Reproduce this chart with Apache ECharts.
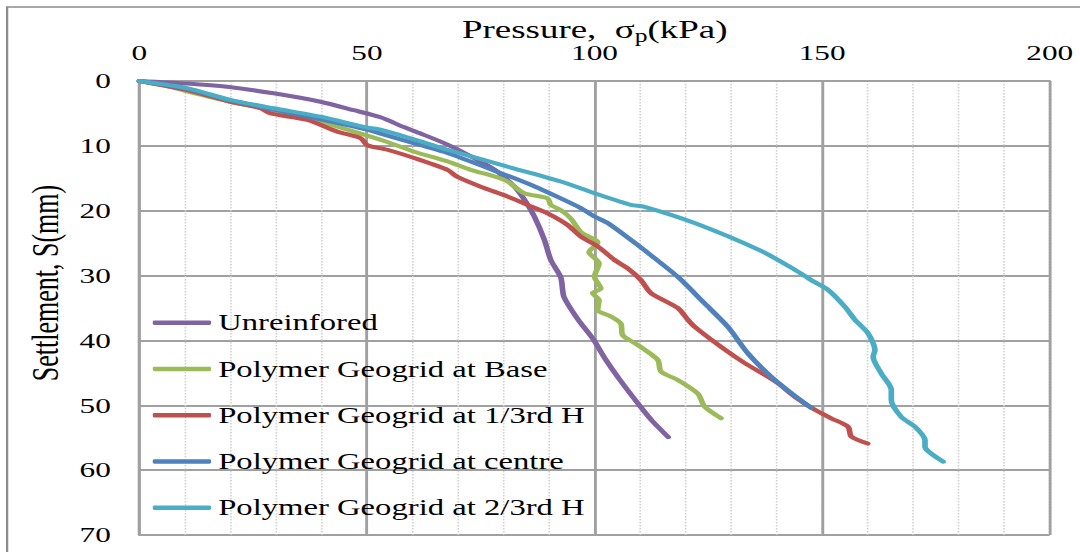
<!DOCTYPE html>
<html><head><meta charset="utf-8">
<script src="https://cdn.jsdelivr.net/npm/echarts@6.0.0/dist/echarts.min.js"></script>
<style>
html,body{margin:0;padding:0;background:#fff;overflow:hidden;}
#wrap{width:1080px;height:552px;overflow:hidden;position:relative;background:#fff;}
#chart{width:760px;height:552px;transform:scaleX(1.42105);transform-origin:0 0;}
</style></head>
<body><div id="wrap"><div id="chart"></div></div>
<script>
// Axis ticks
const xTicks = [0, 50, 100, 150, 200];
const yTicks = [0, 10, 20, 30, 40, 50, 60, 70];

// Titles
const xTitle = '{a|Pressure,  σ}{s|p}{a|(kPa)}';
const yTitle = 'Settlement, S(mm)';

// Series names
const seriesNames = [
  'Unreinfored',
  'Polymer Geogrid at Base',
  'Polymer Geogrid at 1/3rd H',
  'Polymer Geogrid at centre',
  'Polymer Geogrid at 2/3rd H'
];

// [pressure kPa, settlement mm]
const unreinforced = [[0,0],[10.5,0.4],[19.3,0.9],[29.5,1.9],[39.8,3.2],[47.1,4.5],[53,5.6],[58.1,7.1],[61.8,8.1],[67.7,9.8],[73.6,11.9],[78.7,14],[82.4,16.3],[84.6,18.3],[86.8,20.9],[89,24.5],[90.4,27.6],[92.6,30.3],[93.3,33.3],[96.4,36.8],[99.6,39.7],[102.5,43],[105.5,46],[110.2,50.3],[112.8,52.5],[116.2,54.9]];

const geogridBase = [[0,0],[6.8,0.9],[10.5,1.6],[20,3.2],[29.5,4.5],[39.8,6.3],[47.2,7.8],[54.5,9.4],[60.4,10.9],[67.7,12.4],[72.8,13.7],[78,14.7],[80.9,15.5],[84.6,17.3],[89.7,18.1],[90.4,19.1],[92.6,19.9],[94.8,21.2],[97,23.3],[100.7,24.9],[98.8,26.4],[101,28.1],[100,30.2],[101.4,32],[99.6,32.7],[101,33.8],[100.7,35.3],[103.6,36.3],[105.8,37.4],[106.2,39.2],[109.5,40.7],[113.9,43],[114.6,44.8],[118.3,46.1],[122.7,48.2],[124.2,50.2],[127.8,52]];

const geogridThird = [[0,0],[10.5,1.4],[20,3.2],[26.6,4.2],[28.8,5],[36.9,6],[43.5,7.8],[48.6,8.8],[50.1,9.9],[54.5,10.6],[61.8,12.2],[67.7,13.7],[69.9,14.8],[75,16.3],[80.9,17.8],[85.3,19.1],[89.7,20.4],[94.1,22.2],[97,24],[100.7,25.5],[104.4,27.6],[107.3,28.9],[110.2,30.7],[112.4,32.7],[118.3,35],[120.5,36.8],[122,37.9],[127.8,41],[133,43.5],[138.1,45.6],[140.3,46.6],[144,48.7],[148.4,50.7],[152,52],[155.7,53.3],[156.4,54.8],[160,55.9]];

const geogridCentre = [[0,0],[10.5,1.2],[20,3],[29.5,4.4],[39.8,5.9],[50.1,7.5],[53,8.1],[61.8,9.9],[67.7,11.1],[78.7,14],[86,16],[92.6,18.1],[97,19.6],[100,20.9],[102.9,21.9],[108,24.5],[111,26.1],[118.3,30.2],[124.2,34.3],[129.3,37.9],[133.7,42],[138.8,45.6],[143,48],[147.6,50.4]];

const geogridTwoThird = [[0,0],[10.5,1.1],[20,2.9],[29.5,4.2],[39.8,5.5],[50.1,7.2],[53,7.5],[61.8,9.3],[67.7,10.6],[82.4,13.5],[92.6,15.5],[100,17.3],[108,19.1],[111,19.4],[122,21.9],[136.6,26.2],[144,29.1],[147.6,30.7],[151.3,32.2],[155,34.8],[157.2,36.8],[160.1,38.9],[161.6,41.5],[161.2,42.5],[163,45.1],[165.2,47.6],[165.2,49.2],[167.4,51.8],[170.4,53.3],[172.6,55.4],[172.6,56.4],[176.6,58.7]];

const seriesData = [unreinforced, geogridBase, geogridThird, geogridCentre, geogridTwoThird];
const colors = ['#8064A2', '#9BBB59', '#C0504D', '#4F81BD', '#4BACC6'];

const FONT = '"Liberation Serif", "Times New Roman", serif';
const chart = echarts.init(document.getElementById('chart'), null, {renderer: 'svg'});

chart.setOption({
  animation: false,
  backgroundColor: '#fff',
  color: colors,
  textStyle: {fontFamily: FONT, color: '#000'},
  grid: {left: 98, right: 21.3, top: 81, bottom: 17, containLabel: false},
  graphic: [{
    type: 'rect', silent: true, z: -10,
    shape: {x: 5, y: 7, width: 900, height: 700},
    style: {fill: 'none', stroke: '#8c8c8c', lineWidth: 1.6}
  }, {
    type: 'text', silent: true, x: 418.5, y: 29, z: 10,
    style: {
      text: xTitle, align: 'center', verticalAlign: 'middle',
      fontFamily: FONT,
      rich: {
        a: {fontFamily: FONT, fontSize: 26, lineHeight: 32, fill: '#000'},
        s: {fontFamily: FONT, fontSize: 18, lineHeight: 20, verticalAlign: 'bottom', fill: '#000'}
      }
    }
  }],
  legend: {
    orient: 'vertical',
    left: 102.5, top: 304.7,
    itemWidth: 41, itemHeight: 4.5, itemGap: 20.25,
    icon: 'roundRect',
    textStyle: {fontFamily: FONT, fontSize: 23, lineHeight: 26, color: '#000'},
    data: seriesNames
  },
  xAxis: [{
    type: 'value', position: 'top', min: 0, max: 200, interval: 10, z: 0,
    axisLine: {show: false}, axisTick: {show: false}, axisLabel: {show: false},
    splitLine: {show: true, lineStyle: {color: '#cfcfcf', width: 1.1, type: [1.5, 1.5]}}
  }, {
    type: 'value', position: 'top', min: xTicks[0], max: xTicks[xTicks.length - 1], interval: 50, z: 1,
    axisLine: {show: true, lineStyle: {color: '#a0a0a0', width: 2}},
    axisTick: {show: false},
    axisLabel: {fontFamily: FONT, fontSize: 22, color: '#000', margin: 17},
    splitLine: {show: true, lineStyle: {color: '#a0a0a0', width: 2}}
  }],
  yAxis: {
    type: 'value', inverse: true, min: yTicks[0], max: yTicks[yTicks.length - 1], interval: 10,
    name: yTitle, nameLocation: 'middle', nameGap: 52, nameRotate: 90,
    nameTextStyle: {fontFamily: FONT, fontSize: 26, color: '#000', padding: [0, 0, 0, 50]},
    axisLine: {show: true, lineStyle: {color: '#a0a0a0', width: 2}},
    axisTick: {show: false},
    axisLabel: {fontFamily: FONT, fontSize: 22, color: '#000', margin: 20},
    splitLine: {show: true, lineStyle: {color: '#a0a0a0', width: 2}}
  },
  series: seriesNames.map((n, i) => ({
    name: n, type: 'line', xAxisIndex: 1, data: seriesData[i],
    showSymbol: false, symbol: 'none', smooth: 0.25,
    lineStyle: {width: 4, color: colors[i], cap: 'round', join: 'round'},
    z: 3
  }))
});
</script></body></html>
